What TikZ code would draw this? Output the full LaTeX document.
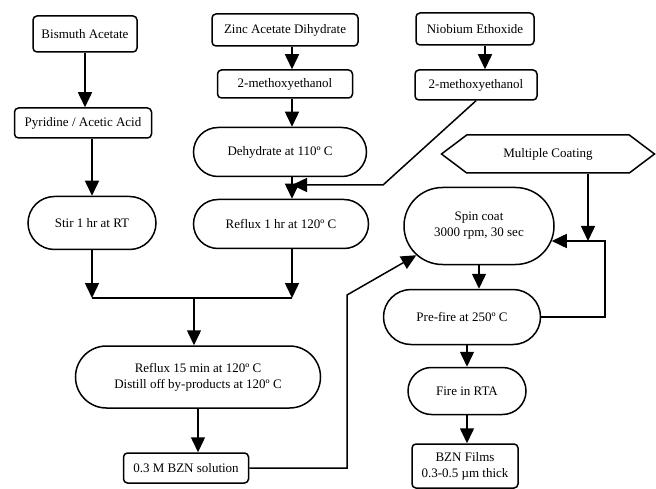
\documentclass[tikz,border=0pt]{standalone}
\usepackage{fontspec}
\setmainfont{Liberation Serif}
\usetikzlibrary{arrows.meta,shapes.misc,shapes.symbols}

\begin{document}
\begin{tikzpicture}[x=1pt,y=-1pt,>={Triangle[width=14pt,length=15pt]},
   line width=1.5pt,
   every node/.style={font=\fontsize{13}{16}\selectfont,align=center,inner sep=1pt},
   box/.style={draw,rounded corners=4pt,minimum width=#1},
   stadium/.style={draw,rounded rectangle,minimum width=#1},
   hexa/.style={draw,signal,signal to=west and east,signal pointer angle=74}]
  \useasboundingbox (0,0) rectangle (656,489);
  \node[box=104,minimum height=36] (bi) at (85,34) {Bismuth Acetate};
  \node[box=137,minimum height=30] (pyr) at (83,123) {Pyridine / Acetic Acid};
  \node[stadium=130,minimum height=53] (stir) at (92,223) {Stir 1 hr at RT};
  \node[box=146,minimum height=32] (zn) at (285,30) {Zinc Acetate Dihydrate};
  \node[box=135,minimum height=28] (mezn) at (285,84) {2-methoxyethanol};
  \node[stadium=175,minimum height=49] (dehy) at (280,152) {Dehydrate at 110º C};
  \node[stadium=177,minimum height=49] (refa) at (281,224) {Reflux 1 hr at 120º C};
  \node[box=118,minimum height=32] (nb) at (475,29) {Niobium Ethoxide};
  \node[box=122,minimum height=30] (menb) at (476,85) {2-methoxyethanol};
  \node[hexa,minimum width=213,minimum height=38] (multi) at (548,154) {Multiple Coating};
  \node[stadium=152,minimum height=77] (spin) at (479,226) {Spin coat\\3000 rpm, 30 sec};
  \node[stadium=159,minimum height=55] (pre) at (462,317) {Pre-fire at 250º C};
  \node[stadium=120,minimum height=47] (fire) at (467,391) {Fire in RTA};
  \node[box=106,minimum height=44] (films) at (465,466) {BZN Films\\0.3-0.5 µm thick};
  \node[stadium=247,minimum height=62] (refb) at (198,377) {Reflux 15 min at 120º C\\Distill off by-products at 120º C};
  \node[box=125,minimum height=30] (sol) at (186,468) {0.3 M BZN solution};
  \coordinate (zline) at (292,0);
  \coordinate (jn) at (194,298);
  \coordinate (kink) at (383,185);
  \coordinate (bend) at (347,295);
  \coordinate (lp) at (605,241);
  \path[->]
   (bi.south) edge (bi.south |- pyr.north)
   (stir.north |- pyr.south) edge (stir.north)
   (zline |- zn.south) edge (zline |- mezn.north)
   (zline |- mezn.south) edge (zline |- dehy.north)
   (zline |- dehy.south) edge (zline |- refa.north)
   ([xshift=10pt]nb.south) edge ([xshift=10pt]nb.south |- menb.north)
   (stir.south) edge (stir.south |- jn)
   (zline |- refa.south) edge (zline |- jn)
   (jn) edge (jn |- refb.north)
   (refb.south) edge (refb.south |- sol.north)
   (spin.south) edge (spin.south |- pre.north)
   (fire.north |- pre.south) edge (fire.north)
   (fire.south) edge (fire.south |- films.north)
   ([xshift=40pt]multi.south) edge ([xshift=40pt]multi.south |- lp);
  \draw (stir.south |- jn) -- (zline |- jn);
  \draw[->] (menb.south) -- (kink) -- (kink -| zline);
  \draw[->] (sol.east) -| (bend) -- (spin.205);
  \draw[->] (pre.east) -| (lp) -- ([xshift=-3pt]spin.east |- lp);
\end{tikzpicture}
\end{document}
